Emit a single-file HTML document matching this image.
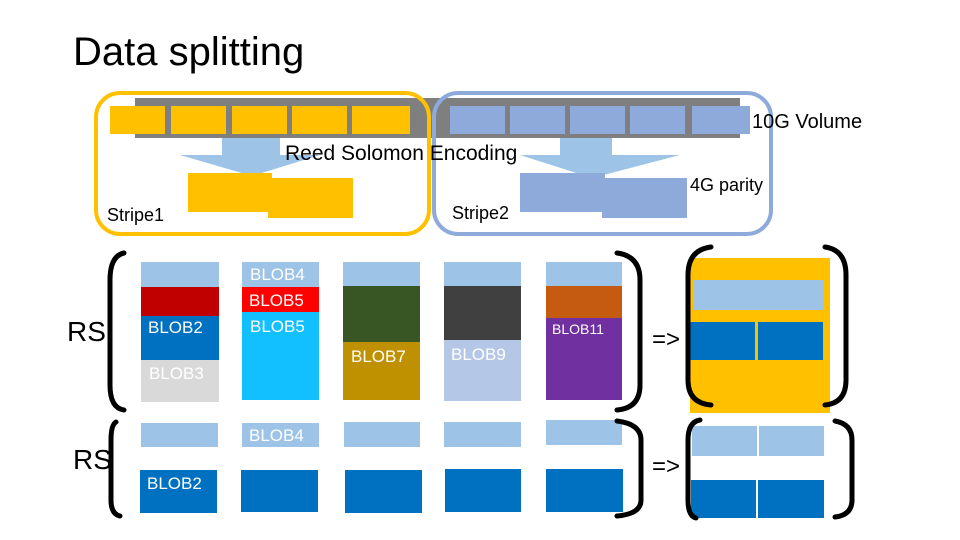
<!DOCTYPE html>
<html><head><meta charset="utf-8"><style>
body{margin:0;background:#fff;}
#c{position:relative;width:960px;height:540px;overflow:hidden;font-family:"Liberation Sans",sans-serif;}
.r{position:absolute;}
.t{position:absolute;white-space:nowrap;color:#000;}
.w{position:absolute;white-space:nowrap;color:#fff;font-size:17px;}
</style></head><body><div id="c">
<div class="t" style="left:73px;top:30px;font-size:40px;">Data splitting</div>

<div class="r" style="left:135px;top:98px;width:605px;height:40px;background:#7f7f7f"></div>
<div class="r" style="left:110px;top:106px;width:55px;height:28px;background:#ffc000"></div>
<div class="r" style="left:171px;top:106px;width:55px;height:28px;background:#ffc000"></div>
<div class="r" style="left:232px;top:106px;width:55px;height:28px;background:#ffc000"></div>
<div class="r" style="left:292px;top:106px;width:55px;height:28px;background:#ffc000"></div>
<div class="r" style="left:352px;top:106px;width:58px;height:28px;background:#ffc000"></div>
<div class="r" style="left:450px;top:106px;width:55px;height:28px;background:#8eaadb"></div>
<div class="r" style="left:510px;top:106px;width:55px;height:28px;background:#8eaadb"></div>
<div class="r" style="left:570px;top:106px;width:55px;height:28px;background:#8eaadb"></div>
<div class="r" style="left:630px;top:106px;width:55px;height:28px;background:#8eaadb"></div>
<div class="r" style="left:692px;top:106px;width:58px;height:28px;background:#8eaadb"></div>

<svg class="r" style="left:0;top:0" width="960" height="540">
<polygon points="222,138 280,138 280,155 320,155 252,176 180,155 222,155" fill="#9dc3e6"/>
<polygon points="560,138 612,138 612,155 680,155 592,178 520,155 560,155" fill="#9dc3e6"/>
</svg>
<div class="r" style="left:188px;top:173px;width:84px;height:39px;background:#ffc000"></div>
<div class="r" style="left:268px;top:178px;width:85px;height:40px;background:#ffc000"></div>
<div class="r" style="left:520px;top:173px;width:85px;height:39px;background:#8eaadb"></div>
<div class="r" style="left:602px;top:178px;width:85px;height:40px;background:#8eaadb"></div>

<svg class="r" style="left:0;top:0" width="960" height="540">
<rect x="96" y="93" width="333" height="141" rx="24" fill="none" stroke="#ffc000" stroke-width="4"/>
<rect x="434" y="93" width="337" height="141" rx="24" fill="none" stroke="#8eaadb" stroke-width="4"/>
</svg>
<div class="t" style="left:752px;top:111px;font-size:20px;">10G Volume</div>
<div class="t" style="left:285px;top:142px;font-size:21px;">Reed Solomon Encoding</div>
<div class="t" style="left:690px;top:175px;font-size:18px;">4G parity</div>
<div class="t" style="left:107px;top:205px;font-size:18px;">Stripe1</div>
<div class="t" style="left:452px;top:203px;font-size:18px;">Stripe2</div>

<div class="t" style="left:67px;top:316px;font-size:28px;">RS</div>
<div class="t" style="left:73px;top:444px;font-size:28px;">RS</div>

<!-- col1 -->
<div class="r" style="left:141px;top:262px;width:78px;height:25px;background:#9dc3e6"></div>
<div class="r" style="left:141px;top:287px;width:78px;height:29px;background:#c00000"></div>
<div class="r" style="left:141px;top:316px;width:78px;height:44px;background:#0070c0"></div>
<div class="r" style="left:141px;top:360px;width:78px;height:42px;background:#d9d9d9"></div>
<!-- col2 -->
<div class="r" style="left:242px;top:262px;width:77px;height:25px;background:#9dc3e6"></div>
<div class="r" style="left:242px;top:287px;width:77px;height:25px;background:#ff0000"></div>
<div class="r" style="left:242px;top:312px;width:77px;height:88px;background:#12bfff"></div>
<!-- col3 -->
<div class="r" style="left:343px;top:262px;width:77px;height:24px;background:#9dc3e6"></div>
<div class="r" style="left:343px;top:286px;width:77px;height:56px;background:#375623"></div>
<div class="r" style="left:343px;top:342px;width:77px;height:58px;background:#bf9000"></div>
<!-- col4 -->
<div class="r" style="left:444px;top:262px;width:77px;height:24px;background:#9dc3e6"></div>
<div class="r" style="left:444px;top:286px;width:77px;height:54px;background:#404040"></div>
<div class="r" style="left:444px;top:340px;width:77px;height:61px;background:#b4c7e7"></div>
<!-- col5 -->
<div class="r" style="left:546px;top:262px;width:76px;height:24px;background:#9dc3e6"></div>
<div class="r" style="left:546px;top:286px;width:76px;height:32px;background:#c55a11"></div>
<div class="r" style="left:546px;top:318px;width:76px;height:82px;background:#7030a0"></div>

<!-- row2 -->
<div class="r" style="left:141px;top:423px;width:77px;height:24px;background:#9dc3e6"></div>
<div class="r" style="left:242px;top:423px;width:77px;height:24px;background:#9dc3e6"></div>
<div class="r" style="left:344px;top:422px;width:76px;height:25px;background:#9dc3e6"></div>
<div class="r" style="left:444px;top:422px;width:77px;height:25px;background:#9dc3e6"></div>
<div class="r" style="left:546px;top:420px;width:76px;height:25px;background:#9dc3e6"></div>
<div class="r" style="left:140px;top:470px;width:77px;height:43px;background:#0070c0"></div>
<div class="r" style="left:241px;top:470px;width:77px;height:42px;background:#0070c0"></div>
<div class="r" style="left:345px;top:470px;width:77px;height:43px;background:#0070c0"></div>
<div class="r" style="left:445px;top:469px;width:76px;height:43px;background:#0070c0"></div>
<div class="r" style="left:546px;top:469px;width:77px;height:43px;background:#0070c0"></div>

<div class="w" style="left:148px;top:318px;">BLOB2</div>
<div class="w" style="left:149px;top:364px;">BLOB3</div>
<div class="w" style="left:250px;top:265px;">BLOB4</div>
<div class="w" style="left:249px;top:291px;">BLOB5</div>
<div class="w" style="left:250px;top:317px;">BLOB5</div>
<div class="w" style="left:351px;top:347px;">BLOB7</div>
<div class="w" style="left:451px;top:345px;">BLOB9</div>
<div class="w" style="left:552px;top:321px;font-size:14px;">BLOB11</div>
<div class="w" style="left:249px;top:426px;">BLOB4</div>
<div class="w" style="left:147px;top:474px;">BLOB2</div>

<!-- right side -->
<div class="r" style="left:690px;top:258px;width:140px;height:155px;background:#ffc000"></div>
<div class="r" style="left:693px;top:280px;width:130px;height:30px;background:#9dc3e6"></div>
<div class="r" style="left:690px;top:322px;width:65px;height:38px;background:#0070c0"></div>
<div class="r" style="left:758px;top:322px;width:65px;height:38px;background:#0070c0"></div>
<div class="r" style="left:692px;top:426px;width:65px;height:30px;background:#9dc3e6"></div>
<div class="r" style="left:759px;top:426px;width:65px;height:30px;background:#9dc3e6"></div>
<div class="r" style="left:691px;top:480px;width:65px;height:38px;background:#0070c0"></div>
<div class="r" style="left:758px;top:480px;width:66px;height:38px;background:#0070c0"></div>
<div class="t" style="left:652px;top:326px;font-size:24px;">=&gt;</div>
<div class="t" style="left:652px;top:453px;font-size:24px;">=&gt;</div>

<svg class="r" style="left:0;top:0" width="960" height="540" fill="none" stroke="#000" stroke-width="5" stroke-linecap="round">
<path d="M124,253 Q110,256 110,280 L110,385 Q110,408 124,410"/>
<path d="M116,422 Q111,425 111,440 L111,500 Q111,514 120,516"/>
<path d="M617,253 Q640,256 640,280 L640,385 Q640,408 617,410"/>
<path d="M617,421 Q641,424 641,440 L641,500 Q641,514 617,516"/>
<path d="M711,247 Q688,250 688,275 L688,380 Q688,403 711,405"/>
<path d="M825,247 Q846,250 846,275 L846,380 Q846,403 825,405"/>
<path d="M700,420 Q688,422 688,440 L688,500 Q688,516 696,518"/>
<path d="M835,421 Q852,424 852,440 L852,500 Q852,515 835,517"/>
</svg>
</div></body></html>
